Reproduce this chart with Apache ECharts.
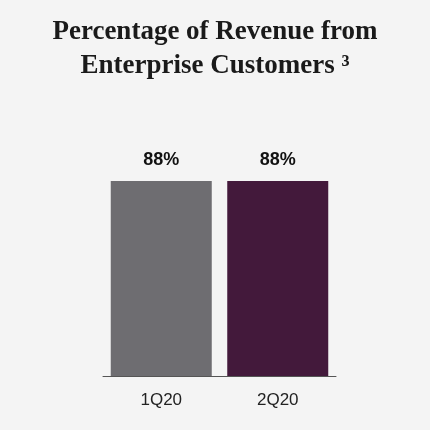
<!DOCTYPE html>
<html><head><meta charset="utf-8">
<script src="https://cdn.jsdelivr.net/npm/echarts@6/dist/echarts.min.js"></script>
<style>html,body{margin:0;padding:0;background:#f4f4f4}#c{width:430px;height:430px}</style>
</head><body><div id="c"></div>
<script>
const categories = ['1Q20', '2Q20'];
const values = [88, 88];
const colors = ['#6e6d71', '#43193b'];
const chart = echarts.init(document.getElementById('c'));
chart.setOption({
  backgroundColor: '#f4f4f4',
  animation: false,
  title: {
    text: 'Percentage of Revenue from\nEnterprise Customers ³',
    left: 'center', top: 10,
    textStyle: { fontFamily: 'Liberation Serif', fontWeight: 'bold', fontSize: 27, lineHeight: 34, color: '#1a1a1a' }
  },
  grid: { left: 103, right: 94, top: 154.4, bottom: 54 },
  xAxis: {
    type: 'category', data: categories,
    axisLine: { lineStyle: { color: '#555', width: 1 } },
    axisTick: { show: false },
    axisLabel: { color: '#222', fontSize: 17, fontFamily: 'Liberation Sans', margin: 16 }
  },
  yAxis: { type: 'value', min: 0, max: 100, show: false, splitLine: { show: false } },
  series: [{
    type: 'bar', barWidth: 101,
    data: values.map((v, i) => ({ value: v, itemStyle: { color: colors[i] } })),
    label: { show: true, position: 'top', distance: 12, formatter: '{c}%', fontSize: 18, fontWeight: 'bold', color: '#111', fontFamily: 'Liberation Sans' }
  }]
});
</script></body></html>
